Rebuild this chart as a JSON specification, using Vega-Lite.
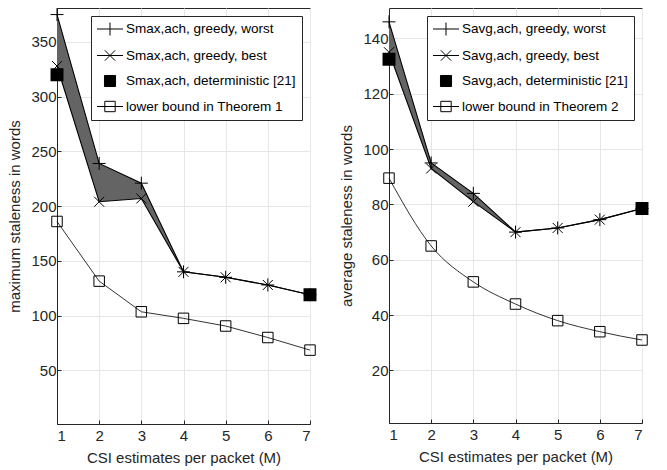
{
  "$schema": "https://vega.github.io/schema/vega-lite/v6.json",
  "background": "white",
  "padding": {"left": 7, "top": 5, "right": 0, "bottom": 0},
  "spacing": 19,
  "datasets": {
    "L": [
      {"M": 1, "worst": 375, "best": 328, "lb": 186},
      {"M": 2, "worst": 239, "best": 204, "lb": 131.5},
      {"M": 3, "worst": 221, "best": 207, "lb": 103.5},
      {"M": 4, "worst": 140, "best": 140, "lb": 97.5},
      {"M": 5, "worst": 135, "best": 135, "lb": 90.5},
      {"M": 6, "worst": 128, "best": 128, "lb": 80},
      {"M": 7, "worst": 119, "best": 119, "lb": 68.5}
    ],
    "Ldet": [{"M": 1, "v": 320}, {"M": 7, "v": 119}],
    "Lleg": [
      {"M": 4, "v": 140, "s": "Smax,ach, greedy, worst"},
      {"M": 4, "v": 140, "s": "Smax,ach, greedy, best"},
      {"M": 4, "v": 140, "s": "Smax,ach, deterministic [21]"},
      {"M": 4, "v": 140, "s": "lower bound in Theorem 1"}
    ],
    "R": [
      {"M": 1, "worst": 146, "best": 135, "lb": 89.5},
      {"M": 2, "worst": 95, "best": 93, "lb": 65},
      {"M": 3, "worst": 84, "best": 81, "lb": 52},
      {"M": 4, "worst": 70, "best": 70, "lb": 44},
      {"M": 5, "worst": 71.5, "best": 71.5, "lb": 38},
      {"M": 6, "worst": 74.5, "best": 74.5, "lb": 34},
      {"M": 7, "worst": 78.5, "best": 78.5, "lb": 31}
    ],
    "Rdet": [{"M": 1, "v": 132.5}, {"M": 7, "v": 78.5}],
    "Rleg": [
      {"M": 4, "v": 70, "s": "Savg,ach, greedy, worst"},
      {"M": 4, "v": 70, "s": "Savg,ach, greedy, best"},
      {"M": 4, "v": 70, "s": "Savg,ach, deterministic [21]"},
      {"M": 4, "v": 70, "s": "lower bound in Theorem 2"}
    ]
  },
  "config": {
    "font": "Liberation Sans",
    "view": {"stroke": "#262626", "strokeWidth": 1},
    "axis": {
      "labelFont": "Liberation Sans",
      "titleFont": "Liberation Sans",
      "labelFontSize": 15,
      "titleFontSize": 15,
      "titleFontWeight": "normal",
      "labelColor": "#262626",
      "titleColor": "#262626",
      "domainColor": "#262626",
      "tickColor": "#262626",
      "gridColor": "#e6e6e6",
      "gridOpacity": 1,
      "tickSize": -4,
      "labelPadding": 5
    },
    "axisX": {"labelPadding": 8, "titlePadding": 7},
    "axisY": {"titlePadding": 8},
    "legend": {
      "labelFont": "Liberation Sans",
      "labelFontSize": 13.5,
      "labelColor": "#000000",
      "labelLimit": 400,
      "strokeColor": "#262626",
      "fillColor": "white",
      "padding": 6,
      "rowPadding": 9.5,
      "orient": "top-right",
      "offset": 8,
      "symbolStrokeColor": "black",
      "symbolStrokeWidth": 1,
      "symbolOpacity": 1,
      "symbolSize": 169,
      "labelOffset": 9,
      "symbolOffset": 6,
      "title": null
    }
  },
  "hconcat": [
    {
      "width": 253,
      "height": 416,
      "encoding": {
        "x": {"field": "M", "type": "quantitative", "scale": {"domain": [1, 7], "nice": false},
              "axis": {"values": [1, 2, 3, 4, 5, 6, 7], "title": "CSI estimates per packet (M)"}}
      },
      "layer": [
        {
          "data": {"name": "L"},
          "mark": {"type": "area", "color": "#646464", "opacity": 1},
          "encoding": {
            "y": {"field": "worst", "type": "quantitative", "scale": {"domain": [1, 381], "nice": false},
                  "axis": {"values": [50, 100, 150, 200, 250, 300, 350], "title": "maximum staleness in words"}},
            "y2": {"field": "best"}
          }
        },
        {
          "data": {"name": "L"},
          "mark": {"type": "line", "color": "black", "strokeWidth": 1.1},
          "encoding": {"y": {"field": "worst", "type": "quantitative", "title": "maximum staleness in words"}}
        },
        {
          "data": {"name": "L"},
          "mark": {"type": "line", "color": "black", "strokeWidth": 1.1},
          "encoding": {"y": {"field": "best", "type": "quantitative", "title": "maximum staleness in words"}}
        },
        {
          "data": {"name": "L"},
          "mark": {"type": "line", "color": "black", "strokeWidth": 0.8},
          "encoding": {"y": {"field": "lb", "type": "quantitative", "title": "maximum staleness in words"}}
        },
        {
          "data": {"name": "L"},
          "mark": {"type": "point", "shape": "M-1,0H1M0,-1V1", "filled": false, "stroke": "black", "strokeWidth": 1, "size": 169, "opacity": 1},
          "encoding": {"y": {"field": "worst", "type": "quantitative", "title": "maximum staleness in words"}}
        },
        {
          "data": {"name": "L"},
          "mark": {"type": "point", "shape": "M-1,-1L1,1M-1,1L1,-1", "filled": false, "stroke": "black", "strokeWidth": 1, "size": 100, "opacity": 1},
          "encoding": {"y": {"field": "best", "type": "quantitative", "title": "maximum staleness in words"}}
        },
        {
          "data": {"name": "L"},
          "mark": {"type": "point", "shape": "M-1,-1H1V1H-1Z", "filled": false, "stroke": "black", "strokeWidth": 1, "size": 110, "opacity": 1},
          "encoding": {"y": {"field": "lb", "type": "quantitative", "title": "maximum staleness in words"}}
        },
        {
          "data": {"name": "Ldet"},
          "mark": {"type": "point", "shape": "square", "filled": true, "fill": "black", "stroke": "black", "size": 120, "opacity": 1},
          "encoding": {"y": {"field": "v", "type": "quantitative", "title": "maximum staleness in words"}}
        },
        {
          "data": {"name": "Lleg"},
          "mark": {"type": "point", "size": 0, "opacity": 1, "strokeWidth": 1},
          "encoding": {
            "y": {"field": "v", "type": "quantitative", "title": "maximum staleness in words"},
            "shape": {"field": "s", "type": "nominal",
              "scale": {"domain": ["Smax,ach, greedy, worst", "Smax,ach, greedy, best", "Smax,ach, deterministic [21]", "lower bound in Theorem 1"],
                        "range": ["M-2,0H2M0,-1V1", "M-2,0H2M-0.8,-0.8L0.8,0.8M-0.8,0.8L0.8,-0.8", "M-0.85,-0.85H0.85V0.85H-0.85Z", "M-2,0H2M-0.8,-0.8H0.8V0.8H-0.8Z"]},
              "legend": {"title": null}},
            "fill": {"field": "s", "type": "nominal",
              "scale": {"domain": ["Smax,ach, greedy, worst", "Smax,ach, greedy, best", "Smax,ach, deterministic [21]", "lower bound in Theorem 1"],
                        "range": ["transparent", "transparent", "black", "transparent"]},
              "legend": {"title": null}},
            "stroke": {"field": "s", "type": "nominal",
              "scale": {"domain": ["Smax,ach, greedy, worst", "Smax,ach, greedy, best", "Smax,ach, deterministic [21]", "lower bound in Theorem 1"],
                        "range": ["black", "black", "black", "black"]},
              "legend": {"title": null}}
          }
        }
      ]
    },
    {
      "width": 253,
      "height": 415,
      "encoding": {
        "x": {"field": "M", "type": "quantitative", "scale": {"domain": [1, 7], "nice": false},
              "axis": {"values": [1, 2, 3, 4, 5, 6, 7], "title": "CSI estimates per packet (M)"}}
      },
      "layer": [
        {
          "data": {"name": "R"},
          "mark": {"type": "area", "color": "#646464", "opacity": 1},
          "encoding": {
            "y": {"field": "worst", "type": "quantitative", "scale": {"domain": [1, 151], "nice": false},
                  "axis": {"values": [20, 40, 60, 80, 100, 120, 140], "title": "average staleness in words"}},
            "y2": {"field": "best"}
          }
        },
        {
          "data": {"name": "R"},
          "mark": {"type": "line", "color": "black", "strokeWidth": 1.1},
          "encoding": {"y": {"field": "worst", "type": "quantitative", "title": "average staleness in words"}}
        },
        {
          "data": {"name": "R"},
          "mark": {"type": "line", "color": "black", "strokeWidth": 1.1},
          "encoding": {"y": {"field": "best", "type": "quantitative", "title": "average staleness in words"}}
        },
        {
          "data": {"name": "R"},
          "mark": {"type": "line", "color": "black", "strokeWidth": 0.8, "interpolate": "monotone"},
          "encoding": {"y": {"field": "lb", "type": "quantitative", "title": "average staleness in words"}}
        },
        {
          "data": {"name": "R"},
          "mark": {"type": "point", "shape": "M-1,0H1M0,-1V1", "filled": false, "stroke": "black", "strokeWidth": 1, "size": 169, "opacity": 1},
          "encoding": {"y": {"field": "worst", "type": "quantitative", "title": "average staleness in words"}}
        },
        {
          "data": {"name": "R"},
          "mark": {"type": "point", "shape": "M-1,-1L1,1M-1,1L1,-1", "filled": false, "stroke": "black", "strokeWidth": 1, "size": 100, "opacity": 1},
          "encoding": {"y": {"field": "best", "type": "quantitative", "title": "average staleness in words"}}
        },
        {
          "data": {"name": "R"},
          "mark": {"type": "point", "shape": "M-1,-1H1V1H-1Z", "filled": false, "stroke": "black", "strokeWidth": 1, "size": 110, "opacity": 1},
          "encoding": {"y": {"field": "lb", "type": "quantitative", "title": "average staleness in words"}}
        },
        {
          "data": {"name": "Rdet"},
          "mark": {"type": "point", "shape": "square", "filled": true, "fill": "black", "stroke": "black", "size": 120, "opacity": 1},
          "encoding": {"y": {"field": "v", "type": "quantitative", "title": "average staleness in words"}}
        },
        {
          "data": {"name": "Rleg"},
          "mark": {"type": "point", "size": 0, "opacity": 1, "strokeWidth": 1},
          "encoding": {
            "y": {"field": "v", "type": "quantitative", "title": "average staleness in words"},
            "shape": {"field": "s", "type": "nominal",
              "scale": {"domain": ["Savg,ach, greedy, worst", "Savg,ach, greedy, best", "Savg,ach, deterministic [21]", "lower bound in Theorem 2"],
                        "range": ["M-2,0H2M0,-1V1", "M-2,0H2M-0.8,-0.8L0.8,0.8M-0.8,0.8L0.8,-0.8", "M-0.85,-0.85H0.85V0.85H-0.85Z", "M-2,0H2M-0.8,-0.8H0.8V0.8H-0.8Z"]},
              "legend": {"title": null}},
            "fill": {"field": "s", "type": "nominal",
              "scale": {"domain": ["Savg,ach, greedy, worst", "Savg,ach, greedy, best", "Savg,ach, deterministic [21]", "lower bound in Theorem 2"],
                        "range": ["transparent", "transparent", "black", "transparent"]},
              "legend": {"title": null}},
            "stroke": {"field": "s", "type": "nominal",
              "scale": {"domain": ["Savg,ach, greedy, worst", "Savg,ach, greedy, best", "Savg,ach, deterministic [21]", "lower bound in Theorem 2"],
                        "range": ["black", "black", "black", "black"]},
              "legend": {"title": null}}
          }
        }
      ]
    }
  ],
  "resolve": {
    "scale": {"shape": "independent", "fill": "independent", "stroke": "independent", "y": "independent", "x": "independent"},
    "legend": {"shape": "independent", "fill": "independent", "stroke": "independent"}
  }
}
